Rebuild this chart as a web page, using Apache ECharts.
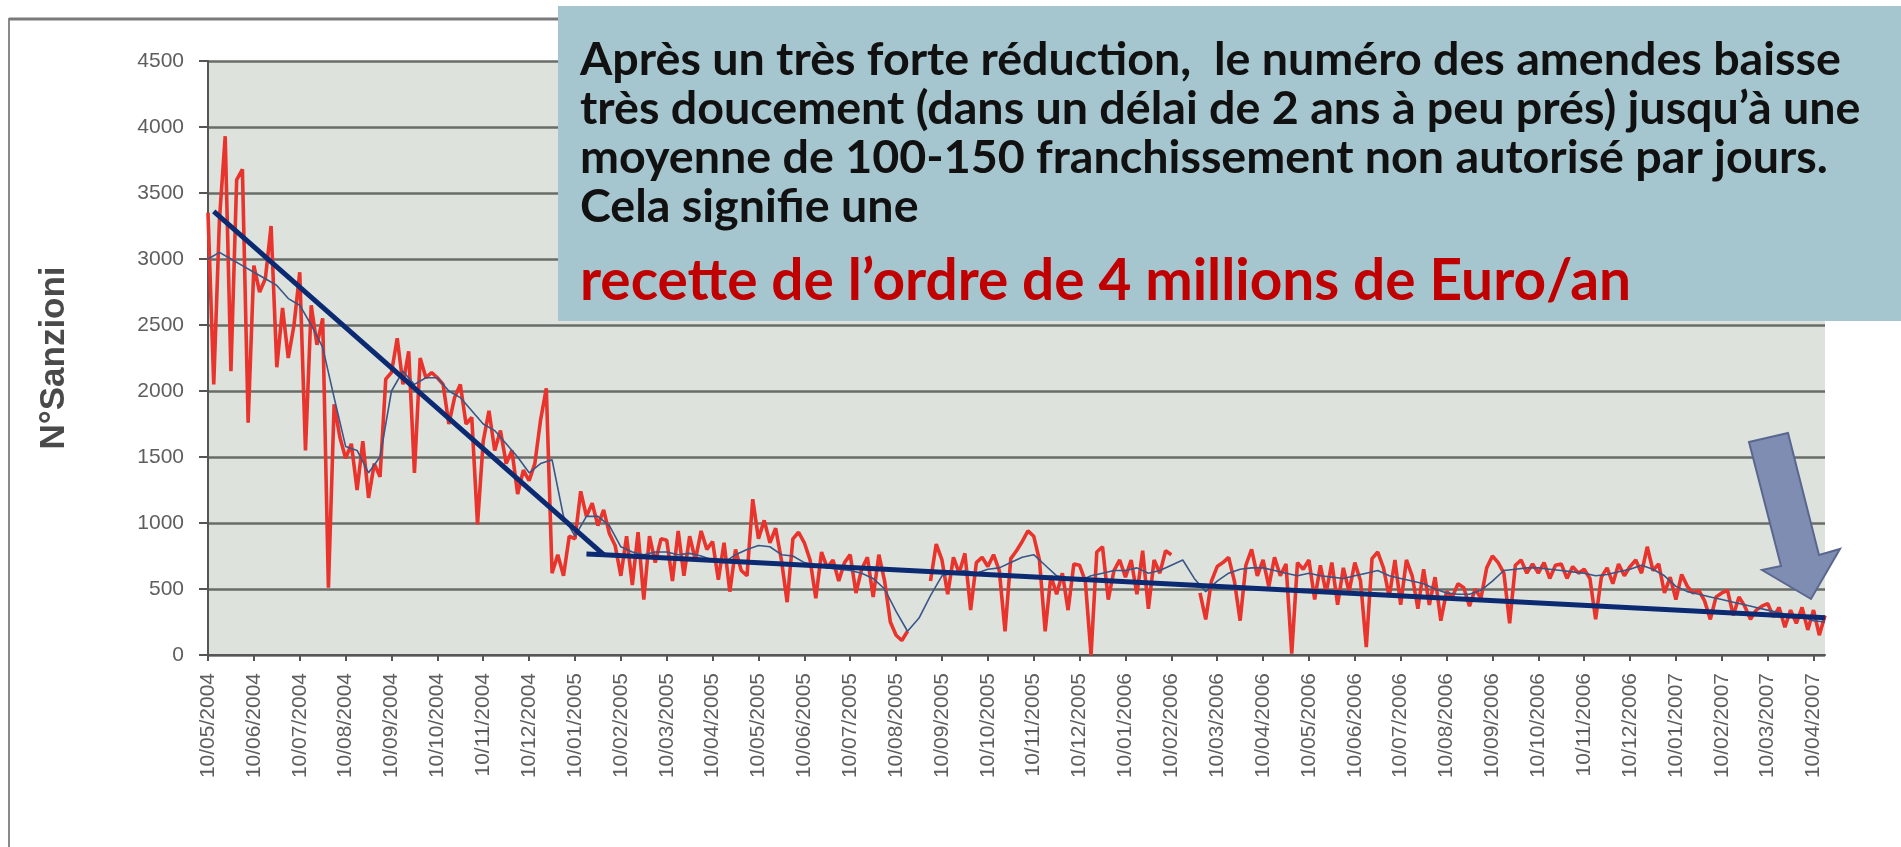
<!DOCTYPE html>
<html><head><meta charset="utf-8">
<script src="https://cdn.jsdelivr.net/npm/echarts@6/dist/echarts.min.js"></script>
<style>html,body{margin:0;padding:0;background:#fff}#c{width:1901px;height:847px}</style>
</head><body><div id="c"></div>
<script>
// Tick labels (one per month, the 10th of each month)
const monthLabels = [
  '10/05/2004','10/06/2004','10/07/2004','10/08/2004','10/09/2004','10/10/2004','10/11/2004','10/12/2004',
  '10/01/2005','10/02/2005','10/03/2005','10/04/2005','10/05/2005','10/06/2005','10/07/2005','10/08/2005',
  '10/09/2005','10/10/2005','10/11/2005','10/12/2005','10/01/2006','10/02/2006','10/03/2006','10/04/2006',
  '10/05/2006','10/06/2006','10/07/2006','10/08/2006','10/09/2006','10/10/2006','10/11/2006','10/12/2006',
  '10/01/2007','10/02/2007','10/03/2007','10/04/2007'
];
const samplesPerMonth = 8;

// Daily sanctions (8 readings per month)
const sanzioni2004 = [
  3350,2050,3300,3930,2150,3600,3680,1760,
  2950,2750,2850,3250,2180,2630,2250,2500,
  2900,1550,2650,2350,2550,510,1900,1650,
  1490,1600,1250,1620,1190,1450,1350,2090,
  2140,2400,2050,2300,1380,2250,2100,2140,
  2100,2050,1750,1950,2050,1750,1800,990,
  1620,1850,1550,1700,1450,1550,1220,1400,
  1320,1450,1780,2020,620,760,600,900
];
const sanzioni2005 = [
  880,1240,1050,1150,980,1100,920,830,
  600,900,530,930,420,900,700,880,
  870,560,940,600,900,720,940,800,
  860,570,850,480,800,640,600,1180,
  880,1020,850,960,720,400,880,930,
  850,720,430,780,660,720,560,700,
  760,470,650,740,440,760,560,250,
  150,110,180,null,null,null,560,840,
  720,460,740,620,770,340,700,740,
  670,760,640,180,730,790,860,940,
  900,720,180,600,460,620,340,690,
  680,560,0,780,820,420,640,720
];
const sanzioni2006 = [
  590,720,460,790,350,720,620,790,
  760,null,null,null,null,470,270,560,
  670,700,740,560,260,680,800,600,
  720,520,740,600,690,10,700,650,
  720,420,680,470,700,380,660,480,
  700,560,60,730,780,660,440,720,
  380,720,600,350,650,380,590,260,
  480,440,540,510,370,500,430,660,
  750,700,620,240,680,720,620,690,
  620,700,580,680,690,580,670,620,
  650,580,270,590,660,540,690,600,
  670,720,620,820,640,690,470,590
];
const sanzioni2007 = [
  420,610,520,470,490,410,270,440,
  470,490,300,440,370,270,340,370,
  390,290,360,210,340,240,360,190,
  340,150,300
];
// Moving average (blue thin line), one reading every 2 samples
const movingAverage = [
  3000,3050,3000,2950, 2900,2850,2800,2700, 2650,2500,2330,1950, 1580,1550,1380,1500,
  2000,2150,2050,2100, 2100,2000,1950,1850, 1750,1700,1600,1500, 1380,1450,1480,1050,
  900,1050,1050,980, 820,780,760,780, 780,760,770,750, 720,700,760,800,
  830,820,760,750, 700,680,660,650, 640,620,580,500, 330,180,280,450,
  600,620,640,620, 650,660,700,740, 760,680,600,580, 560,600,620,640,
  640,660,620,640, 680,720,580,480, 560,620,650,660, 660,640,620,600,
  620,600,590,580, 600,620,640,600, 580,560,540,500, 470,460,460,490,
  560,640,650,660, 660,650,640,630, 620,600,610,630, 650,680,650,600,
  520,480,460,440, 420,400,380,360, 340,320,300,290, 260,250
];
// Hand-drawn trend segments: [sample index, value]
const trendDrop = [[1,3360],[69,760]];
const trendFlat = [[66,765],[69,760],[282,283]];
const yTicks = {min:0, max:4500, step:500};

const values = [].concat(sanzioni2004, sanzioni2005, sanzioni2006, sanzioni2007);
const categories = values.map((v,i)=>{
  const m = Math.floor(i/samplesPerMonth), k = i%samplesPerMonth;
  return monthLabels[m] + (k ? '|' + k : '');
});
const maData = movingAverage.map((v,i)=>[i*2, v]);

function fitFont(text, family, weight, target, base){
  const c = document.createElement('canvas').getContext('2d');
  c.font = weight + ' ' + base + 'px ' + family;
  return base * target / c.measureText(text).width;
}
const boxLines = [
  'Après un très forte réduction,  le numéro des amendes baisse',
  'très doucement (dans un délai de 2 ans à peu prés) jusqu’à une',
  'moyenne de 100-150 franchissement non autorisé par jours.',
  'Cela signifie une'
];
const redLine = 'recette de l’ordre de 4 millions de Euro/an';
const fsBlack = fitFont(boxLines[0], 'Lato', 'bold', 1261, 36);
const fsRed = fitFont(redLine, 'Lato', 'bold', 1051, 46);
const baselines = [77, 126, 175, 224];

const chart = echarts.init(document.getElementById('c'), null, {renderer:'canvas'});
const textEls = boxLines.map((t,i)=>({
  type:'text', x:580, y:baselines[i] - fsBlack*0.36, z:101,
  style:{text:t, fill:'#111', font:'bold ' + fsBlack.toFixed(2) + 'px Lato', verticalAlign:'middle', align:'left'}
}));
textEls.push({
  type:'text', x:580, y:302 - fsRed*0.36, z:101,
  style:{text:redLine, fill:'#c00000', font:'bold ' + fsRed.toFixed(2) + 'px Lato', verticalAlign:'middle', align:'left'}
});

chart.setOption({
  animation:false,
  backgroundColor:'#ffffff',
  grid:{left:208, right:76, top:61, bottom:192, show:true, backgroundColor:'#dde3dc', borderWidth:0},
  xAxis:{
    type:'category', data:categories, boundaryGap:false,
    axisLine:{lineStyle:{color:'#555', width:2}},
    axisTick:{show:true, interval:7, length:6, lineStyle:{color:'#555', width:2}},
    axisLabel:{interval:7, rotate:90, margin:18, fontFamily:'Liberation Sans', fontSize:21, color:'#5e5e5e',
      formatter:v=>v.split('|')[0]},
    splitLine:{show:false}
  },
  yAxis:{
    type:'value', min:yTicks.min, max:yTicks.max, interval:yTicks.step,
    name:'N°Sanzioni', nameLocation:'middle', nameGap:136,
    nameTextStyle:{fontFamily:'Liberation Sans', fontWeight:'bold', fontSize:35, color:'#4a4a4a'},
    axisLine:{show:true, lineStyle:{color:'#555', width:2}},
    axisTick:{show:true, length:9, lineStyle:{color:'#555', width:2}},
    axisLabel:{margin:24, fontFamily:'Liberation Sans', fontSize:21, color:'#5e5e5e', formatter:v=>String(v)},
    splitLine:{show:true, lineStyle:{color:'#686d68', width:2.5}}
  },
  series:[
    {type:'line', data:values, showSymbol:false, connectNulls:false, z:2,
      lineStyle:{color:'#e8342c', width:3.6}},
    {type:'line', data:maData, showSymbol:false, connectNulls:true, z:3, smooth:false,
      lineStyle:{color:'#3a5586', width:1.6}},
    {type:'line', data:trendDrop, showSymbol:false, z:4, lineStyle:{color:'#0b2a72', width:5}},
    {type:'line', data:trendFlat, showSymbol:false, z:4, lineStyle:{color:'#0b2a72', width:5}}
  ],
  graphic:[
    {type:'line', z:50, shape:{x1:9, y1:18, x2:9, y2:847}, style:{stroke:'#8a8a8a', lineWidth:2}},
    {type:'line', z:50, shape:{x1:9, y1:19, x2:1901, y2:19}, style:{stroke:'#7a7a7a', lineWidth:3}},
    {type:'polygon', z:90, shape:{points:[[1749,442],[1788,433],[1819,555],[1840,549],[1811,599],[1762,570],[1781,566]]},
      style:{fill:'#7f8db2', stroke:'#59678f', lineWidth:2}},
    {type:'rect', z:100, shape:{x:558, y:6, width:1343, height:315}, style:{fill:'#a6c6cf'}}
  ].concat(textEls)
});
</script>
</body></html>
